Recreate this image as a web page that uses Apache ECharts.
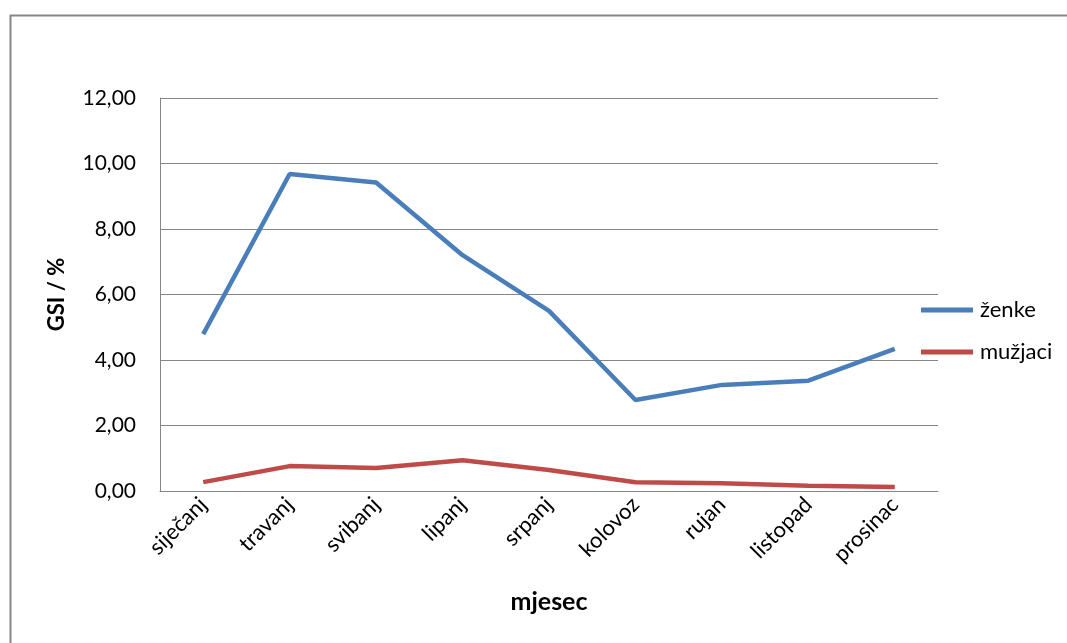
<!DOCTYPE html>
<html>
<head>
<meta charset="utf-8">
<script src="https://cdn.jsdelivr.net/npm/echarts@6/dist/echarts.min.js"></script>
<style>html,body{margin:0;padding:0;background:#fff;}#c{width:1067px;height:643px;}</style>
</head>
<body>
<div id="c"></div>
<script>
const months = ['siječanj','travanj','svibanj','lipanj','srpanj','kolovoz','rujan','listopad','prosinac'];
const zenke = [4.79, 9.68, 9.42, 7.20, 5.50, 2.78, 3.24, 3.37, 4.34];
const muzjaci = [0.27, 0.76, 0.70, 0.94, 0.64, 0.27, 0.24, 0.16, 0.12];
const seriesNames = ['ženke','mužjaci'];
const FONT = 'Lato, "Open Sans", sans-serif';

const chart = echarts.init(document.getElementById('c'));
chart.setOption({
  animation: false,
  backgroundColor: '#fff',
  graphic: [{
    type: 'rect', left: 8, top: 13, z: -1,
    shape: { width: 1100, height: 700 },
    style: { fill: 'none', stroke: '#868686', lineWidth: 2 }
  }],
  grid: { left: 160, right: 129, top: 98, bottom: 152, containLabel: false },
  legend: {
    orient: 'vertical', left: 916, top: 294,
    icon: 'rect', itemWidth: 52, itemHeight: 5, itemGap: 20,
    textStyle: { fontFamily: FONT, fontSize: 22, color: '#000', padding: [0,0,0,2] },
    data: seriesNames
  },
  xAxis: {
    type: 'category', data: months, boundaryGap: true,
    axisLine: { lineStyle: { color: '#868686', width: 1 } },
    axisTick: { show: false },
    axisLabel: { rotate: 45, fontFamily: FONT, fontSize: 22, color: '#000', margin: 10, interval: 0 },
    name: 'mjesec', nameLocation: 'middle', nameGap: 98,
    nameTextStyle: { fontFamily: FONT, fontSize: 25, fontWeight: 'bold', color: '#000' }
  },
  yAxis: {
    type: 'value', min: 0, max: 12, interval: 2,
    axisLine: { show: true, lineStyle: { color: '#868686', width: 1 } },
    axisTick: { show: false },
    splitLine: { lineStyle: { color: '#868686', width: 1 } },
    axisLabel: { fontFamily: FONT, fontSize: 21, color: '#000', margin: 24,
      formatter: v => v.toFixed(2).replace('.', ',') },
    name: 'GSI / %', nameLocation: 'middle', nameGap: 92,
    nameTextStyle: { fontFamily: FONT, fontSize: 22, fontWeight: 'bold', color: '#000' }
  },
  series: [
    { name: seriesNames[0], type: 'line', data: zenke, symbol: 'none',
      lineStyle: { color: '#4A7EBB', width: 4.5 }, itemStyle: { color: '#4A7EBB' } },
    { name: seriesNames[1], type: 'line', data: muzjaci, symbol: 'none',
      lineStyle: { color: '#BE4B48', width: 4.5 }, itemStyle: { color: '#BE4B48' } }
  ]
});
</script>
</body>
</html>
